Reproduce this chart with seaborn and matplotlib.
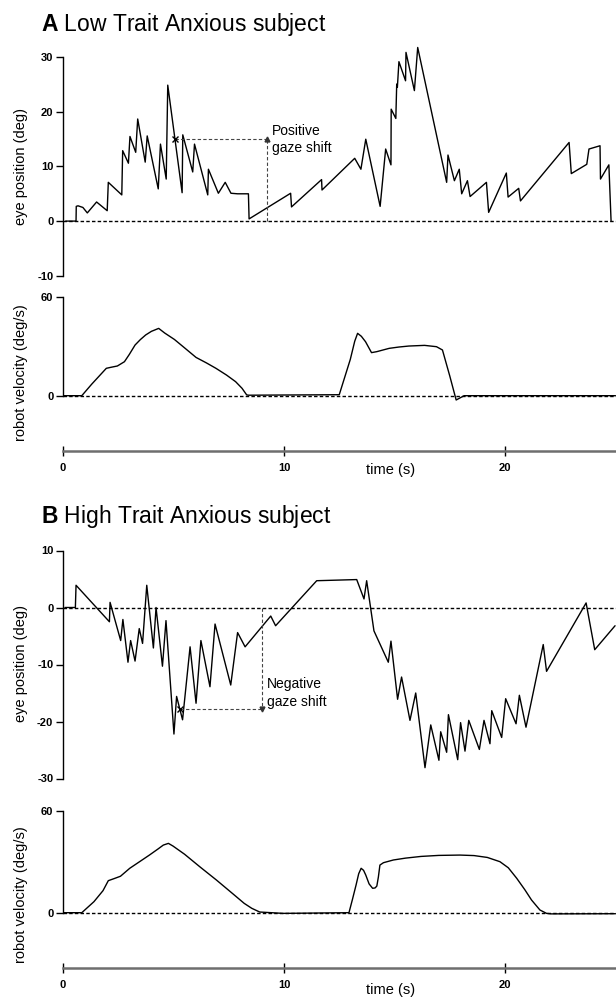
import matplotlib
matplotlib.use("Agg")
import matplotlib.pyplot as plt
import seaborn as sns

# ---------------- data ----------------
# Panel A (low trait anxious): eye position (deg) vs time (s)
eye_a_t = [0.12, 0.59, 0.60, 0.68, 0.9, 1.1, 1.52, 2.0, 2.05, 2.66, 2.70, 2.96, 3.03, 3.29,
           3.38, 3.72, 3.81, 4.31, 4.41, 4.67, 4.74, 5.39, 5.42, 5.87, 5.95, 6.55, 6.58,
           7.03, 7.34, 7.60, 7.9, 8.39, 8.42, 10.30, 10.34, 11.70, 11.72, 13.2, 13.48,
           13.7, 14.35, 14.6, 14.84, 14.85, 15.06, 15.1, 15.13, 15.2, 15.5, 15.52, 15.9,
           16.05, 17.36, 17.42, 17.71, 17.93, 18.04, 18.3, 18.42, 19.16, 19.26, 20.06,
           20.14, 20.62, 20.7, 22.9, 23.0, 23.7, 23.8, 24.3, 24.32, 24.7, 24.8]
eye_a_deg = [0, 0, 2.7, 2.8, 2.5, 1.5, 3.5, 1.9, 7.1, 4.8, 12.9, 10.6, 15.5, 12.6,
             18.7, 10.8, 15.6, 5.9, 14.1, 7.7, 24.9, 5.2, 15.8, 9.0, 14.1, 4.8, 9.5,
             5.1, 7.1, 5.1, 5.0, 5.0, 0.4, 5.1, 2.6, 7.6, 5.7, 11.5, 9.5,
             15.0, 2.7, 13.2, 10.3, 20.5, 18.8, 25.1, 24.5, 29.2, 25.7, 30.9, 23.9,
             31.8, 7.1, 12.1, 7.4, 9.5, 5.0, 7.4, 4.5, 7.1, 1.6, 8.8,
             4.4, 6.0, 3.7, 14.4, 8.7, 10.4, 13.2, 13.8, 7.7, 10.3, 0]

# Panel A: robot velocity (deg/s)
vel_a_t = [0, 0.85, 1.3, 1.96, 2.2, 2.46, 2.78, 3.0, 3.26, 3.5, 3.74, 4.0, 4.33, 4.6,
           5.04, 5.5, 6.02, 6.5, 6.92, 7.4, 7.81, 8.1, 8.31, 8.4, 12.5, 13.0, 13.2,
           13.33, 13.5, 13.69, 13.96, 14.2, 14.76, 15.2, 15.65, 16.36, 16.9, 17.17,
           17.5, 17.79, 18.15, 25.0]
vel_a = [0, 0, 7.0, 16.6, 17.3, 18.0, 20.6, 25.0, 30.7, 34.0, 36.8, 39.0, 40.8, 38.0,
         34.1, 29.0, 23.2, 19.8, 16.6, 12.5, 8.5, 4.5, 0.5, 0.3, 0.6, 22.0, 33.0,
         37.8, 36.0, 32.7, 26.1, 26.7, 28.7, 29.5, 30.1, 30.5, 29.7, 27.7,
         12.0, -2.6, 0, 0]

# Panel B (high trait anxious): eye position (deg)
eye_b_t = [0.09, 0.56, 0.59, 2.10, 2.13, 2.61, 2.71, 2.94, 3.06, 3.26, 3.45, 3.60, 3.79,
           4.09, 4.21, 4.50, 4.66, 5.02, 5.14, 5.41, 5.75, 6.02, 6.24, 6.65, 6.88, 7.59,
           7.90, 8.24, 9.40, 9.62, 11.48, 13.29, 13.62, 13.74, 14.07, 14.72, 14.84,
           15.14, 15.32, 15.70, 15.96, 16.38, 16.64, 17.01, 17.09, 17.36, 17.44, 17.86,
           17.99, 18.19, 18.36, 18.84, 19.05, 19.32, 19.40, 19.85, 20.03, 20.50, 20.65,
           20.95, 21.73, 21.88, 23.67, 24.06, 24.98]
eye_b_deg = [0, 0, 3.9, -2.5, 0.9, -5.8, -2.1, -9.6, -5.8, -9.4, -3.7, -6.3, 3.9,
             -7.1, 0, -10.3, -2.3, -22.2, -15.6, -19.7, -6.9, -16.8, -5.8, -13.9, -2.9, -13.6,
             -4.4, -6.9, -1.5, -3.2, 4.7, 4.9, 1.5, 4.7, -4.1, -9.6, -5.9,
             -16.1, -12.2, -19.8, -15.0, -28.1, -20.6, -26.8, -21.8, -25.4, -18.8, -26.7,
             -20.2, -25.2, -19.8, -24.9, -19.8, -23.9, -18.1, -22.8, -16.0, -20.4, -15.4,
             -21.0, -6.5, -11.2, 0.8, -7.4, -3.2]

# Panel B: robot velocity (deg/s)
vel_b_t = [0, 0.85, 1.4, 1.81, 2.05, 2.31, 2.6, 3.02, 3.5, 3.91, 4.3, 4.54, 4.77, 4.98,
           5.5, 6.2, 6.94, 7.7, 8.2, 8.54, 8.9, 9.96, 12.94, 13.1, 13.26, 13.38, 13.49,
           13.6, 13.7, 13.85, 14.01, 14.12, 14.2, 14.27, 14.34, 14.5, 14.95, 15.5, 16.2,
           17.0, 17.96, 18.6, 19.2, 19.77, 20.15, 20.53, 20.9, 21.2, 21.58, 21.88, 22.1, 25.0]
vel_b = [0, 0, 6.5, 13.0, 18.9, 20.1, 21.5, 26.2, 30.4, 34.0, 37.6, 39.9, 40.9, 39.3,
         34.5, 27.0, 19.3, 11.0, 5.5, 2.6, 0.4, -0.4, 0, 8.0, 16.3, 23.0, 26.2,
         25.0, 22.2, 17.0, 14.4, 14.6, 15.7, 21.0, 28.1, 29.5, 31.1, 32.2, 33.2,
         33.8, 34.0, 33.7, 32.6, 30.1, 26.5, 20.3, 13.5, 7.5, 1.6, -0.4, -0.7, -0.6]

# gaze-shift annotations: (marker time, level, arrow time)
shift_a = (5.07, 15.0, 9.24)
shift_b = (5.29, -17.8, 9.02)

time_ticks = [0, 10, 20]
eye_a_ticks = [-10, 0, 10, 20, 30]
eye_b_ticks = [-30, -20, -10, 0, 10]
vel_ticks = [0, 60]

# ---------------- style ----------------
sns.set_theme(style="white")
plt.rcParams["font.family"] = ["Liberation Sans", "DejaVu Sans"]
plt.rcParams["axes.unicode_minus"] = False
plt.rcParams["mathtext.fontset"] = "custom"
plt.rcParams["mathtext.rm"] = "Liberation Sans"
plt.rcParams["mathtext.bf"] = "Liberation Sans:bold"
for k in ["text.color", "axes.labelcolor", "xtick.color", "ytick.color", "axes.edgecolor"]:
    plt.rcParams[k] = "black"

W, H = 616, 999
fig = plt.figure(figsize=(W / 100, H / 100), dpi=100)
XMAX = (616 - 63) / 22.1


def add_ax(top, bottom, left=63, right=616):
    return fig.add_axes([left / W, 1 - bottom / H, (right - left) / W, (bottom - top) / H])


def style_y(ax, ticks, bounds):
    for s in ["top", "right", "bottom"]:
        ax.spines[s].set_visible(False)
    ax.spines["left"].set_bounds(*bounds)
    ax.spines["left"].set_color("black")
    ax.spines["left"].set_linewidth(1.0)
    ax.set_yticks(ticks)
    ax.set_yticklabels([str(t) for t in ticks])
    ax.tick_params(axis="y", direction="out", length=5, width=1.0, color="black",
                   labelsize=8, pad=2, left=True)
    for lbl in ax.get_yticklabels():
        lbl.set_fontweight("bold")
    ax.set_xlim(0, XMAX)
    ax.set_xticks([])
    ax.tick_params(axis="x", bottom=False, labelbottom=False)
    ax.set_xlabel("")
    ax.set_ylabel("")


def style_time(ax):
    ax.spines["bottom"].set_visible(True)
    ax.spines["bottom"].set_position(("outward", 34))
    ax.spines["bottom"].set_color("#6e6e6e")
    ax.spines["bottom"].set_linewidth(1.8)
    ax.set_xticks(time_ticks)
    ax.set_xticklabels([str(t) for t in time_ticks])
    ax.tick_params(axis="x", direction="inout", length=7, width=1.0, color="black",
                   labelsize=8, pad=5, bottom=True, labelbottom=True)
    for lbl in ax.get_xticklabels():
        lbl.set_fontweight("bold")


def zero_line(ax):
    ax.axhline(0, color="black", lw=1.0, ls=(0, (2.5, 1.6)), zorder=1)


def gaze_shift(ax, shift, text):
    t0, lev, t1 = shift
    ax.plot([t0, t1], [lev, lev], color="#444444", lw=0.8, ls=(0, (3, 2)), zorder=2)
    ax.plot([t1, t1], [0, lev], color="#444444", lw=0.8, ls=(0, (3, 2)), zorder=2)
    ax.plot([t0], [lev], marker="x", color="black", ms=4, mew=1.0, zorder=3)
    ax.plot([t1], [lev], marker="^" if lev > 0 else "v", color="#333333", ms=3.5, zorder=3)
    ax.text(t1 + 0.22, lev if lev > 0 else -15.0, text, fontsize=10, va="center",
            ha="left", linespacing=1.3)


# ---- Panel A eye ----
ax1 = add_ax(221.1 - 33 * 5.46, 275.7)
zero_line(ax1)
sns.lineplot(x=eye_a_t, y=eye_a_deg, ax=ax1, color="black", lw=1.0,
             estimator=None, sort=False)
ax1.set_ylim(-10, 33)
style_y(ax1, eye_a_ticks, (-10, 30))
gaze_shift(ax1, shift_a, "Positive\ngaze shift")

# ---- Panel A velocity ----
ax2 = add_ax(395.7 - 62 * 1.65, 395.7 + 5 * 1.65)
zero_line(ax2)
sns.lineplot(x=vel_a_t, y=vel_a, ax=ax2, color="black", lw=1.0,
             estimator=None, sort=False)
ax2.set_ylim(-5, 62)
style_y(ax2, vel_ticks, (0, 60))
style_time(ax2)

# ---- Panel B eye ----
ax3 = add_ax(607.5 - 12 * 5.7, 607.5 + 30 * 5.7)
zero_line(ax3)
sns.lineplot(x=eye_b_t, y=eye_b_deg, ax=ax3, color="black", lw=1.0,
             estimator=None, sort=False)
ax3.set_ylim(-30, 12)
style_y(ax3, eye_b_ticks, (-30, 10))
gaze_shift(ax3, shift_b, "Negative\ngaze shift")

# ---- Panel B velocity ----
ax4 = add_ax(912.7 - 62 * 1.695, 912.7 + 5 * 1.695)
zero_line(ax4)
sns.lineplot(x=vel_b_t, y=vel_b, ax=ax4, color="black", lw=1.0,
             estimator=None, sort=False)
ax4.set_ylim(-5, 62)
style_y(ax4, vel_ticks, (0, 60))
style_time(ax4)

# ---- titles & labels ----
fig.text(41 / W, 1 - 31.5 / H, r"$\mathbf{A}$ Low Trait Anxious subject",
         fontsize=16.5, ha="left", va="baseline")
fig.text(41 / W, 1 - 523.5 / H, r"$\mathbf{B}$ High Trait Anxious subject",
         fontsize=16.5, ha="left", va="baseline")

for yc, txt in [(166.5, "eye position (deg)"), (373, "robot velocity (deg/s)"),
                (663, "eye position (deg)"), (895, "robot velocity (deg/s)")]:
    fig.text(21 / W, 1 - yc / H, txt, rotation=90, fontsize=10.5, ha="center", va="center")

fig.text(391 / W, 1 - 470 / H, "time (s)", fontsize=10.5, ha="center", va="center")
fig.text(391 / W, 1 - 990 / H, "time (s)", fontsize=10.5, ha="center", va="center")

fig.savefig("out.png", dpi=100)
